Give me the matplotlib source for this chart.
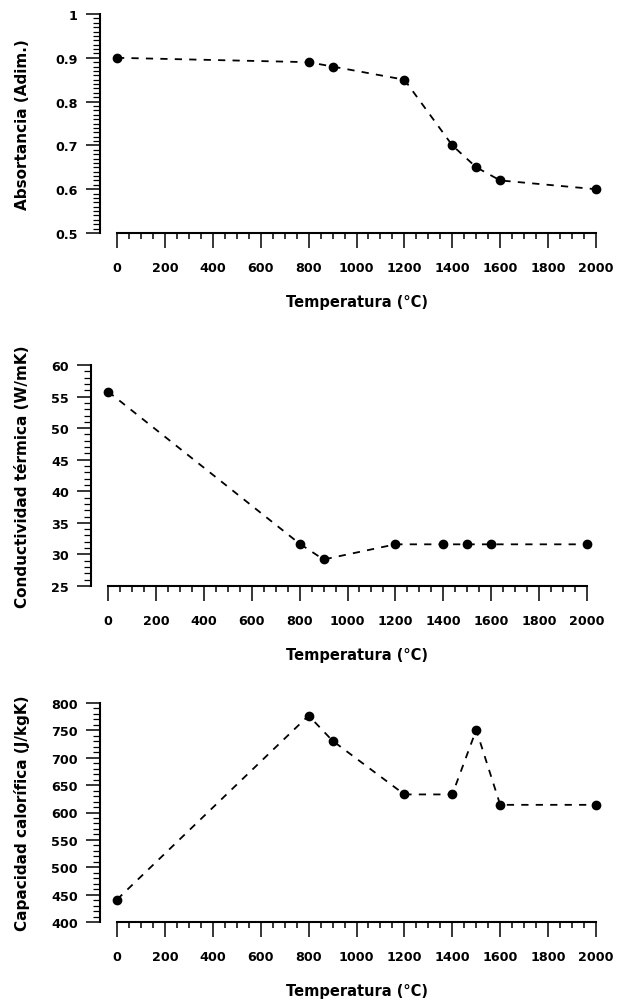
import matplotlib
matplotlib.use('Agg')
import matplotlib.pyplot as plt
from matplotlib.ticker import MultipleLocator, FixedLocator, FuncFormatter

# Data
temp = [0, 800, 900, 1200, 1400, 1500, 1600, 2000]
absortancia = [0.90, 0.89, 0.88, 0.85, 0.70, 0.65, 0.62, 0.60]
conductividad = [55.8, 31.7, 29.2, 31.6, 31.6, 31.6, 31.6, 31.6]
capacidad = [441, 777, 731, 633, 633, 751, 614, 614]

xticks = [0, 200, 400, 600, 800, 1000, 1200, 1400, 1600, 1800, 2000]
xminor = list(range(0, 2001, 50))

plt.rcParams['font.family'] = ['DejaVu Sans']
plt.rcParams['font.weight'] = 'bold'

fig = plt.figure(figsize=(6.28, 10.03), dpi=100)

W, H = 628, 1003


def make_ax(left_px, top_px, bottom_px):
    ax = fig.add_axes([left_px / W, 1 - bottom_px / H, 496 / W, (bottom_px - top_px) / H])
    return ax


panels = [
    # left, top, bottom (pixels), values, ylim, major, minor, ylabel
    (100, 15, 234, absortancia, (0.5, 1.0), 0.1, 0.01, 'Absortancia (Adim.)'),
    (91, 366, 587, conductividad, (25, 60), 5, 1, 'Conductividad térmica (W/mK)'),
    (100, 704, 923, capacidad, (400, 800), 50, 10, 'Capacidad calorífica (J/kgK)'),
]

for left, top, bottom, vals, ylim, major, minor, ylabel in panels:
    ax = make_ax(left, top, bottom)
    ax.plot(temp, vals, color='black', lw=1.3, dashes=(4, 4), marker='o',
            ms=6, mfc='black', mec='black', clip_on=False)
    ax.set_xlim(-71, 2000)
    ax.set_ylim(*ylim)
    ax.spines['top'].set_visible(False)
    ax.spines['right'].set_visible(False)
    ax.spines['bottom'].set_bounds(0, 2000)
    for s in ('left', 'bottom'):
        ax.spines[s].set_linewidth(1.5)
    ax.set_xticks(xticks)
    ax.xaxis.set_minor_locator(FixedLocator(xminor))
    ax.yaxis.set_major_locator(MultipleLocator(major))
    ax.yaxis.set_minor_locator(MultipleLocator(minor))
    if major < 1:
        ax.yaxis.set_major_formatter(FuncFormatter(lambda v, p: '1' if abs(v - 1) < 1e-9 else f'{v:.1f}'))
    ax.tick_params(axis='x', which='major', length=11, width=1.1, pad=9, labelsize=9.2)
    ax.tick_params(axis='x', which='minor', length=4.5, width=1.1)
    ax.tick_params(axis='y', which='major', length=10, width=1.1, pad=6, labelsize=9.2)
    ax.tick_params(axis='y', which='minor', length=5, width=0.9)
    for lab in ax.get_xticklabels() + ax.get_yticklabels():
        lab.set_fontweight('bold')
    ax.set_xlabel('Temperatura (°C)', fontsize=10.5, fontweight='bold')
    ax.xaxis.set_label_coords((357 - left) / 496, -61 / (bottom - top))
    ax.set_ylabel(ylabel, fontsize=11, fontweight='bold')
    ax.yaxis.set_label_coords((30 - left) / 496, 0.5)

fig.savefig('out.png', dpi=100)
